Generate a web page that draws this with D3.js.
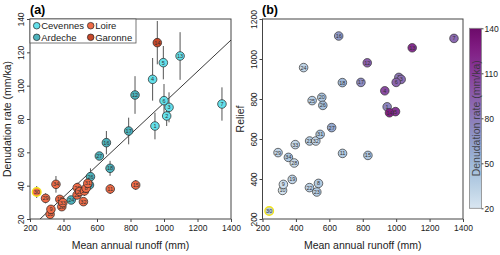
<!DOCTYPE html>
<html>
<head>
<meta charset="utf-8">
<script src="https://cdn.jsdelivr.net/npm/d3@7"></script>
<style>
  body { margin: 0; background: #fff; }
  svg { font-family: "Liberation Sans", Arial, sans-serif; }
  .tick text { font-size: 8.5px; fill: #222; }
  .tick line { stroke: #444; }
</style>
</head>
<body>
<div id="chart"></div>
<script>
// sample data
var labels     = [1, 2, 3, 4, 5, 6, 7, 13, 14, 12, 16, 17, 18, 27, 20, 26, 24,
                  30, 29, 10, 9, 34, 19, 28, 33, 22, 21, 25, 32, 23, 8, 31, 11, 15];
var basins     = ['C','C','C','C','C','C','C','C','G','A','A','A','A','A','A','A','A',
                  'L','L','L','L','L','L','L','L','L','L','L','L','L','L','L','L','L'];
var runoff     = [946, 1016, 1030, 932, 996, 1000, 1346, 1096, 960, 827, 656, 789, 678, 614, 555, 561, 446,
                  240, 293, 320, 325, 355, 378, 390, 396, 481, 482, 497, 519, 525, 535, 545, 679, 831];
var denudation = [75.8, 81.8, 87, 103.8, 113.8, 91, 89, 117.8, 125.8, 94.4, 65.8, 72.8, 50.4, 57.8, 40.4, 45.4, 31.4,
                  36.2, 32.4, 22.8, 25.8, 40.8, 31.8, 27.4, 29.8, 34.4, 38.8, 36.5, 30.4, 36.8, 38.5, 41.4, 38, 40.4];
var errors     = [8, 6, 9, 12.8, 10, 10, 10, 14.3, 13, 11.3, 7, 8, 4.5, 2, 2, 5, 2,
                  3.6, 3, 2, 2.5, 5, 2, 2, 2, 2.5, 3, 3, 2, 3, 3, 3, 3, 3];
var relief     = [761, 908, 898, 841, 737, 883, 1103, 1056, 731, 981, 1115, 883, 882, 657, 808, 768, 957,
                  240, 532, 343, 373, 508, 398, 480, 572, 357, 590, 792, 590, 335, 378, 623, 528, 518];
var highlighted = 30;

var basinNames  = { C: 'Cevennes', A: 'Ardeche', L: 'Loire', G: 'Garonne' };
var basinColors = { C: '#64e0ea', A: '#4db3bd', L: '#ef6b47', G: '#c8482a' };
var legendOrder = ['C', 'L', 'A', 'G'];

var xTicks = [200, 400, 600, 800, 1000, 1200, 1400];
var yTicksA = [20, 40, 60, 80, 100, 120, 140];
var yTicksB = [200, 400, 600, 800, 1000, 1200];
var barTicks = [20, 50, 80, 110, 140];

// fitted line (denudation = slope * runoff + intercept)
var fitSlope = 0.0942;
var fitIntercept = -4.5;

var data = labels.map(function(l, i) {
  return { label: l, basin: basins[i], x: runoff[i], y: denudation[i], err: errors[i], relief: relief[i] };
});

var width = 500, height = 255;
var svg = d3.select('#chart').append('svg').attr('width', width).attr('height', height);
var fmt = d3.format('d');

var pA = { left: 30, right: 231, top: 19, bottom: 219 };
var pB = { left: 262.5, right: 463, top: 19, bottom: 219 };

var xA = d3.scaleLinear().domain([200, 1400]).range([pA.left, pA.right]);
var yA = d3.scaleLinear().domain([20, 140]).range([pA.bottom, pA.top]);
var xB = d3.scaleLinear().domain([200, 1400]).range([pB.left, pB.right]);
var yB = d3.scaleLinear().domain([200, 1200]).range([pB.bottom, pB.top]);
var cScale = d3.scalePow().exponent(0.75).domain([20, 140]).range([0.15, 0.92]);
function denColor(v) { return d3.interpolateBuPu(cScale(v)); }

function drawAxes(p, xs, ys, xt, yt, ylabX, title, titleX) {
  svg.append('g')
    .attr('transform', 'translate(0,' + p.bottom + ')')
    .call(d3.axisBottom(xs).tickValues(xt).tickFormat(fmt).tickSize(3).tickSizeOuter(0).tickPadding(3))
    .call(function(g) { g.select('.domain').remove(); });
  var gy = svg.append('g')
    .attr('transform', 'translate(' + p.left + ',0)')
    .call(d3.axisLeft(ys).tickValues(yt).tickFormat(fmt).tickSize(3).tickSizeOuter(0))
    .call(function(g) { g.select('.domain').remove(); });
  gy.selectAll('.tick text')
    .attr('x', null).attr('dy', null)
    .attr('text-anchor', 'middle')
    .attr('dominant-baseline', 'central')
    .attr('transform', 'translate(' + (ylabX - p.left) + ',0) rotate(-90)');
  svg.append('rect')
    .attr('x', p.left).attr('y', p.top)
    .attr('width', p.right - p.left).attr('height', p.bottom - p.top)
    .attr('fill', 'none').attr('stroke', '#444').attr('stroke-width', 1);
  svg.append('text')
    .attr('x', (p.left + p.right) / 2).attr('y', 245)
    .attr('text-anchor', 'middle').attr('dominant-baseline', 'central')
    .attr('font-size', 10.5).attr('fill', '#222')
    .text('Mean annual runoff (mm)');
  svg.append('text')
    .attr('transform', 'translate(' + titleX + ',' + (p.top + p.bottom) / 2 + ') rotate(-90)')
    .attr('text-anchor', 'middle').attr('dominant-baseline', 'central')
    .attr('font-size', 10.5).attr('fill', '#222')
    .text(title);
}

drawAxes(pA, xA, yA, xTicks, yTicksA, 21, 'Denudation rate (mm/ka)', 7);
drawAxes(pB, xB, yB, xTicks, yTicksB, 254, 'Relief', 240);

svg.append('text').attr('x', 30).attr('y', 14).attr('font-size', 12.5).attr('font-weight', 'bold').text('(a)');
svg.append('text').attr('x', 262).attr('y', 14).attr('font-size', 12.5).attr('font-weight', 'bold').text('(b)');

// ---- panel (a)
svg.append('clipPath').attr('id', 'clipA').append('rect')
  .attr('x', pA.left).attr('y', pA.top).attr('width', pA.right - pA.left).attr('height', pA.bottom - pA.top);
var gA = svg.append('g').attr('clip-path', 'url(#clipA)');

var x0 = (20 - fitIntercept) / fitSlope;
gA.append('line')
  .attr('x1', xA(x0)).attr('y1', yA(20))
  .attr('x2', xA(1400)).attr('y2', yA(fitSlope * 1400 + fitIntercept))
  .attr('stroke', '#222').attr('stroke-width', 0.9);

gA.selectAll('line.err').data(data).enter().append('line')
  .attr('class', 'err')
  .attr('x1', function(d) { return xA(d.x); }).attr('x2', function(d) { return xA(d.x); })
  .attr('y1', function(d) { return yA(d.y - d.err); }).attr('y2', function(d) { return yA(d.y + d.err); })
  .attr('stroke', '#555').attr('stroke-width', 1);

var ptA = gA.selectAll('g.pt').data(data).enter().append('g')
  .attr('transform', function(d) { return 'translate(' + xA(d.x) + ',' + yA(d.y) + ')'; });
ptA.append('circle').attr('r', 4.3)
  .attr('fill', function(d) { return basinColors[d.basin]; })
  .attr('stroke', function(d) { return d.label === highlighted ? '#f2e21a' : '#222'; })
  .attr('stroke-width', function(d) { return d.label === highlighted ? 1.4 : 0.7; });
ptA.append('text').attr('text-anchor', 'middle').attr('dy', 2)
  .attr('font-size', 5.5).attr('fill', '#333')
  .text(function(d) { return d.label; });

// legend
var lg = svg.append('g');
lg.append('rect').attr('x', 30).attr('y', 19).attr('width', 106).attr('height', 24)
  .attr('fill', '#fff').attr('stroke', '#555').attr('stroke-width', 0.8);
var li = lg.selectAll('g.li').data(legendOrder).enter().append('g')
  .attr('transform', function(d, i) {
    return 'translate(' + (i % 2 === 0 ? 36.7 : 90.7) + ',' + (i < 2 ? 25.7 : 37.3) + ')';
  });
li.append('circle').attr('r', 3.3).attr('fill', function(d) { return basinColors[d]; })
  .attr('stroke', '#222').attr('stroke-width', 0.7);
li.append('text').attr('x', 4.5).attr('dy', 3.3).attr('font-size', 9.5).attr('fill', '#222')
  .text(function(d) { return basinNames[d]; });

// ---- panel (b)
var ptB = svg.append('g').selectAll('g.pt').data(data).enter().append('g')
  .attr('transform', function(d) { return 'translate(' + xB(d.x) + ',' + yB(d.relief) + ')'; });
ptB.append('circle').attr('r', 4.3)
  .attr('fill', function(d) { return denColor(d.y); })
  .attr('stroke', function(d) { return d.label === highlighted ? '#f2e21a' : '#333'; })
  .attr('stroke-width', function(d) { return d.label === highlighted ? 1.4 : 0.7; });
ptB.append('text').attr('text-anchor', 'middle').attr('dy', 2)
  .attr('font-size', 5.5).attr('fill', '#333')
  .text(function(d) { return d.label; });

// colour bar
var bar = { x: 469.5, w: 12, top: 28.3, bottom: 208.3 };
var yBar = d3.scaleLinear().domain([20, 140]).range([bar.bottom, bar.top]);
var grad = svg.append('defs').append('linearGradient').attr('id', 'barGrad')
  .attr('x1', 0).attr('y1', 1).attr('x2', 0).attr('y2', 0);
d3.range(0, 1.0001, 0.05).forEach(function(t) {
  grad.append('stop').attr('offset', t).attr('stop-color', denColor(20 + t * 120));
});
svg.append('rect').attr('x', bar.x).attr('y', bar.top).attr('width', bar.w).attr('height', bar.bottom - bar.top)
  .attr('fill', 'url(#barGrad)').attr('stroke', '#888').attr('stroke-width', 0.8);
svg.append('g')
  .attr('transform', 'translate(' + (bar.x + bar.w) + ',0)')
  .call(d3.axisRight(yBar).tickValues(barTicks).tickSize(2).tickSizeOuter(0).tickPadding(1))
  .call(function(g) { g.select('.domain').remove(); });
svg.append('text')
  .attr('transform', 'translate(' + (bar.x + bar.w / 2) + ',' + (bar.top + bar.bottom) / 2 + ') rotate(-90)')
  .attr('text-anchor', 'middle').attr('dominant-baseline', 'central')
  .attr('font-size', 10.5).attr('fill', '#333').attr('fill-opacity', 0.85)
  .text('Denudation rate (mm/ka)');
</script>
</body>
</html>
